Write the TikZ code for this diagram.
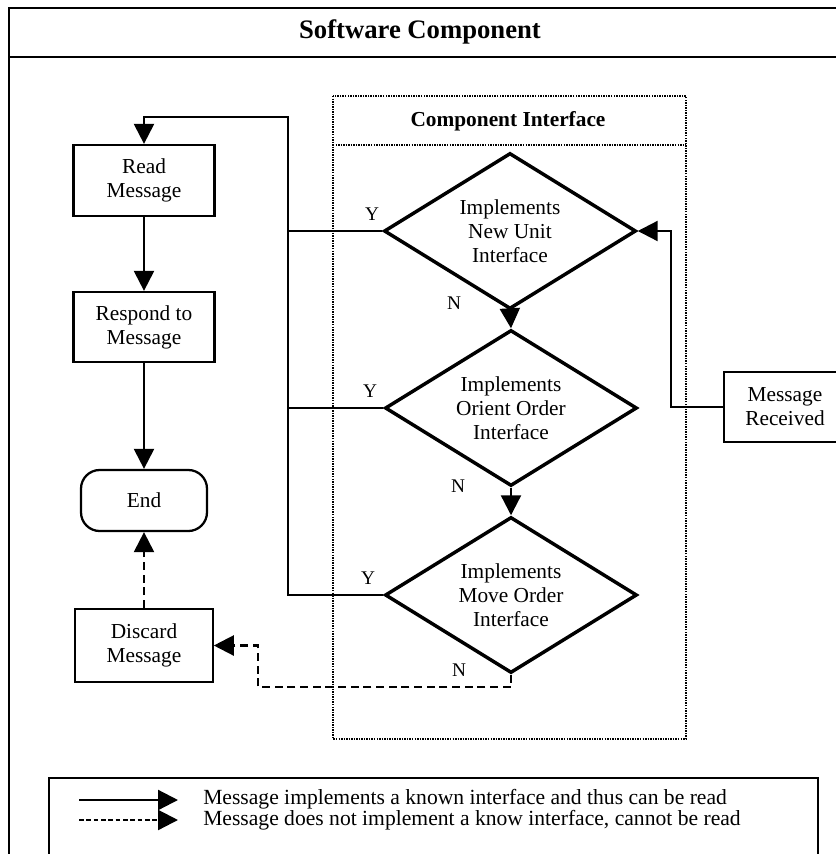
\documentclass[tikz,border=0pt]{standalone}
\usepackage{fontspec}
\setmainfont{Liberation Serif}
\usetikzlibrary{arrows.meta,shapes.geometric}

\begin{document}
\begin{tikzpicture}[x=0.75pt,y=-0.75pt,
  txt/.style={font=\fontsize{16}{18}\selectfont, align=center},
  box/.style={txt, draw, line width=1.7pt, inner sep=0pt},
  decision/.style={txt, shape=diamond, draw, line width=2.6pt, aspect=1.615,
    inner sep=0pt, minimum width=189pt, minimum height=117pt},
  flow/.style={line width=1.7pt, -{Triangle[length=15pt,width=15pt]}},
  noflow/.style={flow, dash pattern=on 6pt off 3.5pt},
  plain/.style={line width=1.7pt},
  frame/.style={line width=1.8pt},
  iface/.style={line width=1.8pt, dash pattern=on 1.1pt off 0.8pt},
  yn/.style={font=\fontsize{14.5}{16}\selectfont, inner sep=0pt},
  legendtext/.style={font=\fontsize{16.2}{14.6}\selectfont, align=left, anchor=west, inner sep=0pt}
]
\useasboundingbox (0,0) rectangle (836,854);
\clip (0,0) rectangle (836,854);

% outer frame and title band
\draw[frame] (9,8) rectangle (880,900);
\draw[frame] (9,57) -- (880,57);
\node[font=\fontsize{20}{22}\selectfont\bfseries] (title) at (420,32) {Software Component};

% component interface container
\draw[iface] (333,96) rectangle (686,739);
\draw[iface] (333,145) -- (686,145);
\node[font=\fontsize{16}{18}\selectfont\bfseries] (ititle) at (508,121) {Component Interface};

% left column
\node[box, minimum width=105.75pt, minimum height=53.25pt] (read) at (144,180.5) {Read\\Message};
\node[box, minimum width=105.75pt, minimum height=52.5pt] (respond) at (144,327) {Respond to\\Message};
\node[box, rounded corners=14pt, minimum width=94.5pt, minimum height=45.75pt] (end) at (144,500.5) {End};
\node[box, minimum width=103pt, minimum height=54.75pt] (discard) at (144,645.5) {Discard\\Message};

% incoming message
\node[box, minimum width=91.5pt, minimum height=52.5pt] (received) at (785,407) {Message\\Received};

% decisions
\node[decision] (d1) at (510,231) {Implements\\New Unit\\Interface};
\node[decision] (d2) at (511,408) {Implements\\Orient Order\\Interface};
\node[decision] (d3) at (511,595) {Implements\\Move Order\\Interface};

% yes / no labels
\node[yn] (y1) at (372,214) {Y};
\node[yn] (y2) at (370,391) {Y};
\node[yn] (y3) at (368,578) {Y};
\node[yn] (n1) at (454,303) {N};
\node[yn] (n2) at (458,486) {N};
\node[yn] (n3) at (459,670) {N};

% routing points
\coordinate (bustop) at (288,117);
\coordinate (rx) at (671,231);
\coordinate (dc) at (258,687);

% accepted messages go back to the reader
\draw[flow] (d3.west) -| (bustop) -| (read.north);
\draw[plain] (d1.west) -- (d1.west -| bustop);
\draw[plain] (d2.west) -- (d2.west -| bustop);
\draw[flow] (read.south) -- (respond.north);
\draw[flow] (respond.south) -- (end.north);

% decision chain
\draw[flow] (received.west) -| (rx) -- (d1.east);
\draw[flow] (d1.south) -- (d2.north);
\draw[flow] (d2.south) -- (d3.north);

% unknown messages are discarded
\draw[noflow] (d3.south) |- (dc) |- (discard.east);
\draw[noflow] (discard.north) -- (end.south);

% legend
\draw[frame] (49,900) -- (49,778) -- (818,778) -- (818,900);
\coordinate (la1) at (79,800);
\coordinate (lb1) at (178,800);
\coordinate (la2) at (79,820);
\coordinate (lb2) at (178,820);
\draw[flow] (la1) -- (lb1);
\draw[noflow, dash pattern=on 3.5pt off 2pt] (la2) -- (lb2);
\node[legendtext] (lt) at (203,810) {Message implements a known interface and thus can be read\\Message does not implement a know interface, cannot be read};
\end{tikzpicture}
\end{document}
